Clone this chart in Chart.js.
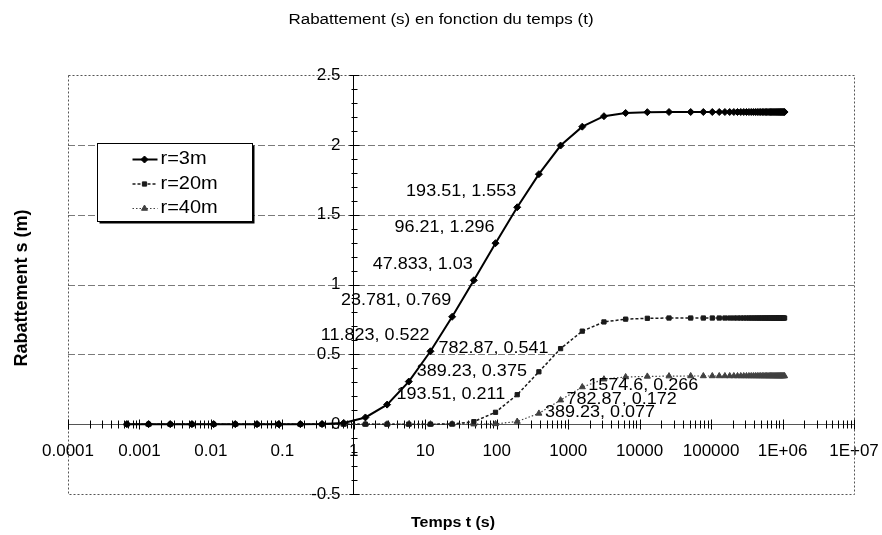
<!DOCTYPE html>
<html>
<head>
<meta charset="utf-8">
<title>Rabattement (s) en fonction du temps (t)</title>
<script src="https://cdn.jsdelivr.net/npm/chart.js@4.4.1/dist/chart.umd.min.js"></script>
<style>
html, body { margin: 0; padding: 0; background: #fff; }
#wrap { width: 882px; height: 535px; position: relative; }
</style>
</head>
<body>
<div id="wrap"><canvas id="rabChart"></canvas></div>
<script>
// pumping times (s): doubling steps first, then a constant step
const times = [
  0.00066686, 0.0013412, 0.0026976, 0.0054258, 0.010913, 0.021949, 0.044146,
  0.088793, 0.17859, 0.35920, 0.72246, 1.4531, 2.9226, 5.8783,
  11.823, 23.781, 47.833, 96.21, 193.51, 389.23, 782.87, 1574.6,
  3167.0, 6369.8, 12812, 25768, 51828,
  77888, 103948, 130008, 156068, 182128, 208188, 234248, 260308, 286368, 312428,
  338488, 364548, 390608, 416668, 442728, 468788, 494848, 520908, 546968, 573028,
  599088, 625148, 651208, 677268, 703328, 729388, 755448, 781508, 807568, 833628,
  859688, 885748, 911808, 937868, 963928, 989988, 1016048, 1042108, 1068168
];

// drawdown s (m) at r = 3 m
const s_r3 = [
  0, 0, 0, 0, 0, 0, 0, 0, 0, 0.0004, 0.009, 0.048, 0.14, 0.305,
  0.522, 0.769, 1.03, 1.296, 1.553, 1.79, 1.995, 2.13,
  2.205, 2.228, 2.234, 2.235, 2.235,
  2.235, 2.235, 2.235, 2.235, 2.235, 2.235, 2.235, 2.235, 2.235, 2.235, 2.235, 2.235, 2.235,
  2.235, 2.235, 2.235, 2.235, 2.235, 2.235, 2.235, 2.235, 2.235, 2.235, 2.235, 2.235, 2.235,
  2.235, 2.235, 2.235, 2.235, 2.235, 2.235, 2.235, 2.235, 2.235, 2.235, 2.235, 2.235, 2.235
];

// drawdown s (m) at r = 20 m
const s_r20 = [
  0, 0, 0, 0, 0, 0, 0, 0, 0, 0, 0, 0, 0, 0,
  0, 0.001, 0.018, 0.085, 0.211, 0.375, 0.541, 0.666,
  0.732, 0.752, 0.758, 0.76, 0.76,
  0.76, 0.76, 0.76, 0.76, 0.76, 0.76, 0.76, 0.76, 0.76, 0.76, 0.76, 0.76, 0.76,
  0.76, 0.76, 0.76, 0.76, 0.76, 0.76, 0.76, 0.76, 0.76, 0.76, 0.76, 0.76, 0.76,
  0.76, 0.76, 0.76, 0.76, 0.76, 0.76, 0.76, 0.76, 0.76, 0.76, 0.76, 0.76, 0.76
];

// drawdown s (m) at r = 40 m
const s_r40 = [
  0, 0, 0, 0, 0, 0, 0, 0, 0, 0, 0, 0, 0, 0,
  0, 0, 0, 0.002, 0.019, 0.077, 0.172, 0.266,
  0.322, 0.338, 0.342, 0.344, 0.345,
  0.345, 0.345, 0.345, 0.345, 0.345, 0.345, 0.345, 0.345, 0.345, 0.345, 0.345, 0.345, 0.345,
  0.345, 0.345, 0.345, 0.345, 0.345, 0.345, 0.345, 0.345, 0.345, 0.345, 0.345, 0.345, 0.345,
  0.345, 0.345, 0.345, 0.345, 0.345, 0.345, 0.345, 0.345, 0.345, 0.345, 0.345, 0.345, 0.345
];

const seriesNames = ["r=3m", "r=20m", "r=40m"];

// points that carry a "t, s" label, per series
const labeledTimes = [
  [11.823, 23.781, 47.833, 96.21, 193.51],
  [193.51, 389.23, 782.87],
  [389.23, 782.87, 1574.6]
];

const xTickLabels = ["0.0001", "0.001", "0.01", "0.1", "1", "10", "100", "1000", "10000", "100000", "1E+06", "1E+07"];
const yTickValues = [-0.5, 0, 0.5, 1, 1.5, 2, 2.5];
const yTickLabels = ["-0.5", "0", "0.5", "1", "1.5", "2", "2.5"];

const FONT = "'Liberation Sans', Arial, Helvetica, sans-serif";
Chart.defaults.font.family = FONT;
Chart.defaults.color = "#000";

function isDecade(v) {
  const l = Math.log10(v);
  return Math.abs(l - Math.round(l)) < 1e-9;
}
function isHalf(v) {
  return Math.abs(v * 2 - Math.round(v * 2)) < 1e-6;
}

const styles = [
  { borderColor: "#000", backgroundColor: "#000", borderWidth: 2, borderDash: [], pointStyle: "rectRot", pointRadius: 3.5 },
  { borderColor: "#1a1a1a", backgroundColor: "#1a1a1a", borderWidth: 1.5, borderDash: [3, 2], pointStyle: "rect", pointRadius: 3 },
  { borderColor: "#404040", backgroundColor: "#404040", borderWidth: 1.2, borderDash: [1.5, 2], pointStyle: "triangle", pointRadius: 3.5 }
];

// label placement next to each series' points
const labelPlace = [
  { align: "right", dx: -1, dy: -16 },
  { align: "right", dx: -12, dy: 0 },
  { align: "left", dx: 6, dy: -1 }
];

const allSeries = [s_r3, s_r20, s_r40];

function drawText(ctx, text, x, y, font, align, sy) {
  ctx.save();
  ctx.font = font;
  ctx.textAlign = align;
  ctx.textBaseline = "middle";
  ctx.fillStyle = "#000";
  ctx.translate(x, y);
  ctx.scale(1, sy);
  ctx.fillText(text, 0, 0);
  ctx.restore();
}

const decor = {
  id: "decor",
  beforeDatasetsDraw(chart) {
    const { ctx, chartArea: a, scales: { x, y } } = chart;
    ctx.save();
    // horizontal gridlines every 0.5
    ctx.lineWidth = 1;
    ctx.strokeStyle = "#7a7a7a";
    ctx.setLineDash([7, 3]);
    y.ticks.forEach(t => {
      if (!isHalf(t.value) || Math.abs(t.value) < 1e-9) return;
      if (t.value <= y.min + 1e-9 || t.value >= y.max - 1e-9) return;
      const py = Math.round(y.getPixelForValue(t.value)) + 0.5;
      ctx.beginPath();
      ctx.moveTo(a.left, py);
      ctx.lineTo(a.right, py);
      ctx.stroke();
    });
    // dotted plot frame
    ctx.strokeStyle = "#555";
    ctx.setLineDash([2, 2]);
    ctx.strokeRect(Math.round(a.left) + 0.5, Math.round(a.top) + 0.5, Math.round(a.width), Math.round(a.height));
    // tick marks crossing the axes
    ctx.setLineDash([]);
    ctx.strokeStyle = "#000";
    const x0 = Math.round(x.getPixelForValue(1)) + 0.5;
    const y0 = Math.round(y.getPixelForValue(0)) + 0.5;
    x.ticks.forEach(t => {
      const px = Math.round(x.getPixelForValue(t.value)) + 0.5;
      const h = isDecade(t.value) ? 5 : 4;
      ctx.beginPath();
      ctx.moveTo(px, y0 - h);
      ctx.lineTo(px, y0 + h);
      ctx.stroke();
    });
    y.ticks.forEach(t => {
      const py = Math.round(y.getPixelForValue(t.value)) + 0.5;
      const w = isHalf(t.value) ? 5 : 3;
      ctx.beginPath();
      ctx.moveTo(x0 - w, py);
      ctx.lineTo(x0 + w, py);
      ctx.stroke();
    });
    ctx.restore();
    // value labels of the vertical axis, left of the axis line
    yTickValues.forEach((v, i) => {
      drawText(ctx, yTickLabels[i], x0 - 14, y.getPixelForValue(v), "17px " + FONT, "right", 1);
    });
  },
  afterDatasetsDraw(chart) {
    const ctx = chart.ctx;
    // "t, s" labels
    labeledTimes.forEach((list, si) => {
      const meta = chart.getDatasetMeta(si);
      const p = labelPlace[si];
      list.forEach(t => {
        const i = times.indexOf(t);
        const pt = meta.data[i];
        drawText(ctx, times[i] + ", " + allSeries[si][i], pt.x + p.dx, pt.y + p.dy,
          "18px " + FONT, p.align, 0.9);
      });
    });
  },
  afterDraw(chart) {
    const { ctx, chartArea: a } = chart;
    // titles
    drawText(ctx, "Rabattement (s) en fonction du temps (t)", chart.width / 2, 20, "17px " + FONT, "center", 0.9);
    drawText(ctx, "Temps t (s)", 453, 523, "bold 16px " + FONT, "center", 0.9);
    ctx.save();
    ctx.translate(22, 288);
    ctx.rotate(-Math.PI / 2);
    drawText(ctx, "Rabattement s (m)", 0, 0, "bold 18px " + FONT, "center", 1);
    ctx.restore();

    // legend box with shadow
    const bx = Math.round(a.left + 29) + 0.5, by = Math.round(a.top + 68) + 0.5;
    const bw = 155, bh = 78;
    ctx.save();
    ctx.fillStyle = "#000";
    ctx.fillRect(bx + 2, by + 2, bw, bh);
    ctx.fillStyle = "#fff";
    ctx.fillRect(bx, by, bw, bh);
    ctx.lineWidth = 1;
    ctx.strokeStyle = "#000";
    ctx.strokeRect(bx, by, bw, bh);
    seriesNames.forEach((name, i) => {
      const st = styles[i];
      const ly = by + 16 + i * 24.5;
      ctx.save();
      ctx.strokeStyle = st.borderColor;
      ctx.lineWidth = st.borderWidth;
      ctx.setLineDash(st.borderDash);
      ctx.beginPath();
      ctx.moveTo(bx + 35, ly);
      ctx.lineTo(bx + 60, ly);
      ctx.stroke();
      ctx.setLineDash([]);
      ctx.fillStyle = st.backgroundColor;
      ctx.lineWidth = 1;
      if (Chart.helpers && Chart.helpers.drawPoint) {
        Chart.helpers.drawPoint(ctx, { pointStyle: st.pointStyle, radius: st.pointRadius, rotation: 0, borderWidth: 1 }, bx + 47, ly);
      }
      ctx.restore();
      drawText(ctx, name, bx + 63, ly, "20px " + FONT, "left", 0.88);
    });
    ctx.restore();
  }
};

const datasets = allSeries.map((vals, si) => ({
  label: seriesNames[si],
  data: times.map((t, i) => ({ x: t, y: vals[i] })),
  borderColor: styles[si].borderColor,
  backgroundColor: styles[si].backgroundColor,
  borderWidth: styles[si].borderWidth,
  borderDash: styles[si].borderDash,
  pointStyle: styles[si].pointStyle,
  pointRadius: styles[si].pointRadius,
  pointBorderWidth: 1,
  tension: 0,
  fill: false
}));

// keep tick labels from widening the plot margins
function noPad(scale) {
  scale.paddingLeft = 0;
  scale.paddingRight = 0;
  scale.paddingTop = 0;
  scale.paddingBottom = 0;
}

new Chart(document.getElementById("rabChart"), {
  type: "line",
  data: { datasets: datasets },
  options: {
    responsive: true,
    maintainAspectRatio: false,
    animation: false,
    layout: { padding: { left: 68, top: 75, right: 28, bottom: 41 } },
    plugins: {
      legend: { display: false },
      tooltip: { enabled: false },
      title: { display: false }
    },
    scales: {
      x: {
        type: "logarithmic",
        min: 0.0001,
        max: 10000000,
        position: { y: 0 },
        grid: { display: false, drawTicks: false },
        border: { display: true, color: "#555", width: 1 },
        afterBuildTicks(scale) {
          const ticks = [];
          for (let e = -4; e <= 6; e++) {
            for (let m = 1; m <= 9; m++) {
              ticks.push({ value: Number((m * Math.pow(10, e)).toPrecision(6)) });
            }
          }
          ticks.push({ value: 10000000 });
          scale.ticks = ticks;
        },
        afterFit: noPad,
        ticks: {
          autoSkip: false,
          maxRotation: 0,
          padding: 17,
          font: { size: 17 },
          callback: v => isDecade(v) ? xTickLabels[Math.round(Math.log10(v)) + 4] : ""
        }
      },
      y: {
        type: "linear",
        min: -0.5,
        max: 2.5,
        position: { x: 1 },
        grid: { display: false, drawTicks: false },
        border: { display: true, color: "#000", width: 1 },
        afterFit: noPad,
        ticks: {
          stepSize: 0.1,
          autoSkip: false,
          display: false
        }
      }
    }
  },
  plugins: [decor]
});
</script>
</body>
</html>
